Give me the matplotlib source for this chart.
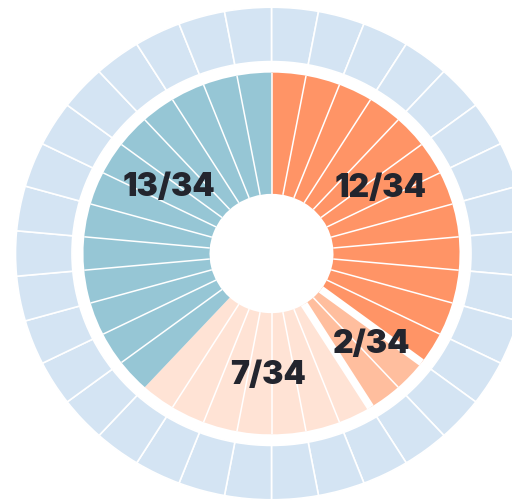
import numpy as np
import matplotlib
matplotlib.use("Agg")
import matplotlib.pyplot as plt

# groups of the inner ring, clockwise from 12 o'clock
groups = ["12/34", "2/34", "7/34", "13/34"]
counts = [12, 2, 7, 13]
colors = ["#FF9466", "#FFBE9E", "#FFE3D5", "#96C6D5"]
total = 34
outer_color = "#D4E4F3"

# label placement: angle (deg clockwise from top) and radius
label_angle = [59.3, 132.4, 181.6, -57.0]
label_radius = [127, 135, 122, 122]

# geometry (pixel units, horizontal)
cx, cy = 271.5, 253.5
yscale = 0.962
r_hole, r_inner = 62, 188
r_outer_in, r_outer = 199.5, 256

fig = plt.figure(figsize=(5.12, 5.0), dpi=100)
ax = fig.add_axes([0, 0, 1, 1])

# outer ring: one cell per unit
ax.pie([1] * total, radius=r_outer, startangle=90, counterclock=False,
       colors=[outer_color] * total,
       wedgeprops=dict(width=r_outer - r_outer_in, edgecolor="white", linewidth=1.2))

# inner ring: one slice per group
ax.pie(counts, radius=r_inner, startangle=90, counterclock=False, colors=colors,
       wedgeprops=dict(width=r_inner - r_hole, edgecolor="none", linewidth=0))

# thin separators between units, thick gaps around the small group
bounds = np.cumsum([0] + counts)
thick = {bounds[1], bounds[2]}
for k in range(total):
    if k == bounds[3]:
        continue
    th = np.deg2rad(k * 360 / total)
    lw = 5.5 if k in thick else 1.1
    ax.plot([r_hole * np.sin(th), r_inner * np.sin(th)],
            [r_hole * np.cos(th), r_inner * np.cos(th)],
            color="white", lw=lw, solid_capstyle="butt")

for name, a, r in zip(groups, label_angle, label_radius):
    th = np.deg2rad(a)
    ax.text(r * np.sin(th), r * np.cos(th) / yscale, name, ha="center", va="center",
            fontsize=23, fontweight="black", family="Inter", color="#23252E")

# the picture is squashed a little vertically
ax.set_aspect("auto")
ax.set_xlim(-cx, 512 - cx)
ax.set_ylim(-(500 - cy) / yscale, cy / yscale)
ax.axis("off")

fig.savefig("out.png", dpi=100)
